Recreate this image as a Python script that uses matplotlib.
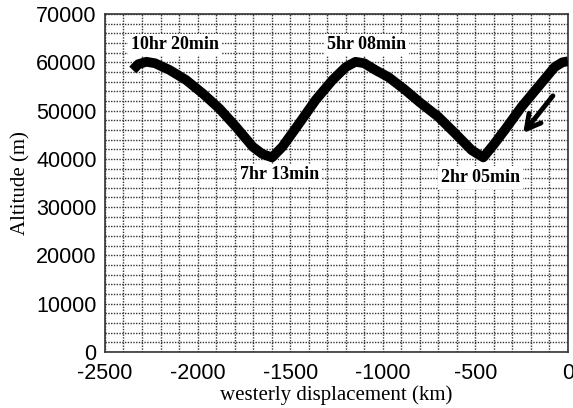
import matplotlib
matplotlib.use("Agg")
import matplotlib.pyplot as plt
from matplotlib.ticker import MultipleLocator

plt.rcParams["axes.unicode_minus"] = False

# trajectory (km, m)
disp = [-2350, -2320, -2276, -2230, -2151, -2061, -1971, -1882, -1792, -1702,
        -1650, -1598, -1542, -1452, -1362, -1272, -1200, -1147, -1100, -1040,
        -968, -880, -800, -700, -610, -520, -457, -400, -341, -250, -161, -72, -30, 0]
alt = [58400, 59600, 60100, 59800, 58400, 56300, 53500, 50400, 46600, 42500,
       41000, 40300, 42500, 47300, 52200, 56300, 59000, 60100, 59800, 58400,
       56900, 54300, 51700, 48700, 45300, 41800, 40300, 43000, 46000, 50800, 54900, 59000, 60000, 60200]

labels = ["10hr 20min", "5hr 08min", "7hr 13min", "2hr 05min"]
label_x = [-2124, -1086, -1559, -473]
label_y = [63600, 63600, 36700, 36100]

fig = plt.figure(figsize=(5.73, 4.08), dpi=100)
ax = fig.add_axes([0.1832, 0.1373, 0.8080, 0.8284])

ax.plot(disp, alt, color="black", lw=7, solid_capstyle="butt", solid_joinstyle="round", zorder=3)

# direction arrow
ax.annotate("", xy=(-251, 44900), xytext=(-72, 53500),
            arrowprops=dict(arrowstyle="->,head_length=1.0,head_width=0.55", lw=3.5, color="black"),
            zorder=4)

for t, x, y in zip(labels, label_x, label_y):
    ax.text(x, y, t, ha="center", va="center", fontsize=13, fontweight="bold",
            family="Liberation Serif",
            bbox=dict(facecolor="white", edgecolor="none", pad=2), zorder=5)

ax.set_xlim(-2500, 0)
ax.set_ylim(0, 70000)
ax.xaxis.set_major_locator(MultipleLocator(500))
ax.xaxis.set_minor_locator(MultipleLocator(100))
ax.yaxis.set_major_locator(MultipleLocator(10000))
ax.yaxis.set_minor_locator(MultipleLocator(2000))
ax.grid(which="both", color="#333333", ls=(0, (1, 1)), lw=1)
ax.set_axisbelow(True)
ax.tick_params(which="both", length=0, labelsize=15.5)
ax.tick_params(axis="x", pad=8)
ax.tick_params(axis="y", pad=6)
for lab in ax.get_xticklabels() + ax.get_yticklabels():
    lab.set_family("Liberation Sans")
for lab in ax.get_yticklabels():
    lab.set_verticalalignment("center_baseline")
for s in ax.spines.values():
    s.set_color("#333333")
    s.set_linewidth(1.2)

ax.set_xlabel("westerly displacement (km)", family="Liberation Serif", fontsize=15, labelpad=1)
ax.set_ylabel("Altitude (m)", family="Liberation Serif", fontsize=15, labelpad=4)

fig.savefig("out.png", dpi=100)
